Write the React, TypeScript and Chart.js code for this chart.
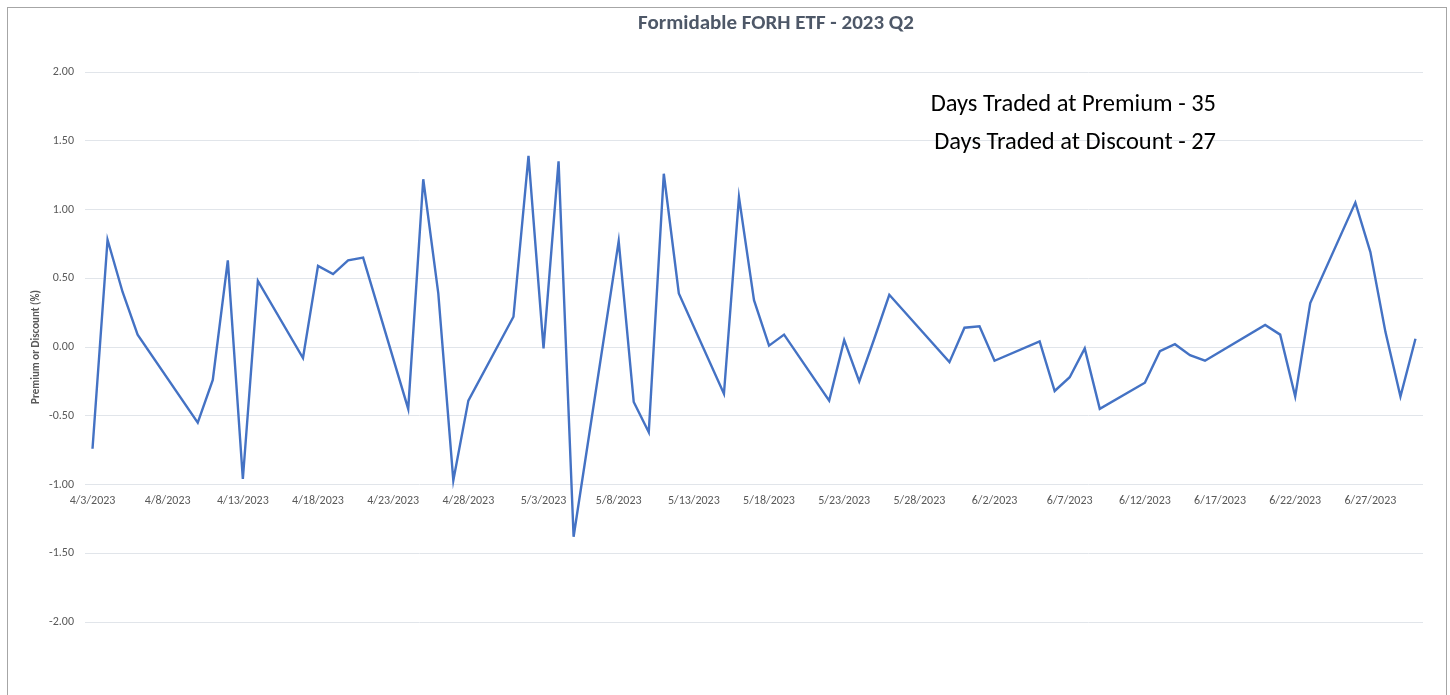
import React, { useEffect, useRef } from "react";
import { Chart, registerables } from "chart.js";

Chart.register(...registerables);

const chartTitle = "Formidable FORH ETF - 2023 Q2";
const yAxisTitle = "Premium or Discount (%)";
const noteLines = ["Days Traded at Premium - 35", "Days Traded at Discount - 27"];

const tradeDates = [
  "4/3/2023", "4/4/2023", "4/5/2023", "4/6/2023", "4/10/2023", "4/11/2023", "4/12/2023", "4/13/2023", "4/14/2023",
  "4/17/2023", "4/18/2023", "4/19/2023", "4/20/2023", "4/21/2023", "4/24/2023", "4/25/2023", "4/26/2023", "4/27/2023", "4/28/2023",
  "5/1/2023", "5/2/2023", "5/3/2023", "5/4/2023", "5/5/2023", "5/8/2023", "5/9/2023", "5/10/2023", "5/11/2023", "5/12/2023",
  "5/15/2023", "5/16/2023", "5/17/2023", "5/18/2023", "5/19/2023", "5/22/2023", "5/23/2023", "5/24/2023", "5/25/2023", "5/26/2023",
  "5/30/2023", "5/31/2023",
  "6/1/2023", "6/2/2023", "6/5/2023", "6/6/2023", "6/7/2023", "6/8/2023", "6/9/2023", "6/12/2023", "6/13/2023", "6/14/2023",
  "6/15/2023", "6/16/2023", "6/20/2023", "6/21/2023", "6/22/2023", "6/23/2023", "6/26/2023", "6/27/2023", "6/28/2023",
  "6/29/2023", "6/30/2023",
];

const premiumDiscount = [
  -0.74, 0.78, 0.40, 0.09, -0.55, -0.24, 0.63, -0.96, 0.48,
  -0.08, 0.59, 0.53, 0.63, 0.65, -0.45, 1.22, 0.39, -0.97, -0.39,
  0.22, 1.39, -0.01, 1.35, -1.38, 0.77, -0.40, -0.62, 1.26, 0.39,
  -0.34, 1.09, 0.34, 0.01, 0.09, -0.39, 0.05, -0.25, 0.06, 0.38,
  -0.11, 0.14,
  0.15, -0.10, 0.04, -0.32, -0.22, -0.01, -0.45, -0.26, -0.03, 0.02,
  -0.06, -0.10, 0.16, 0.09, -0.36, 0.32, 1.05, 0.69, 0.11,
  -0.36, 0.06,
];

const xTickLabels = [
  "4/3/2023", "4/8/2023", "4/13/2023", "4/18/2023", "4/23/2023", "4/28/2023",
  "5/3/2023", "5/8/2023", "5/13/2023", "5/18/2023", "5/23/2023", "5/28/2023",
  "6/2/2023", "6/7/2023", "6/12/2023", "6/17/2023", "6/22/2023", "6/27/2023",
];

const yMin = -2;
const yMax = 2;
const yStep = 0.5;
const firstDay = "4/3/2023";
const lastDay = "6/30/2023";

function dayIndex(s: string): number {
  const [m, d, y] = s.split("/").map(Number);
  const [m0, d0, y0] = firstDay.split("/").map(Number);
  return Math.round((Date.UTC(y, m - 1, d) - Date.UTC(y0, m0 - 1, d0)) / 86400000);
}

const FONT = "Carlito, Calibri, Lato, sans-serif";

export default function App() {
  const ref = useRef<HTMLCanvasElement | null>(null);

  useEffect(() => {
    if (!ref.current) return;
    const points = tradeDates.map((d, i) => ({ x: dayIndex(d), y: premiumDiscount[i] }));
    const tickMap = new Map<number, string>();
    xTickLabels.forEach((l) => tickMap.set(dayIndex(l), l));

    const textPlugin = {
      id: "texts",
      afterDraw(chart: any) {
        const ctx = chart.ctx;
        ctx.save();
        ctx.textBaseline = "middle";
        ctx.textAlign = "center";
        ctx.fillStyle = "#4e5868";
        ctx.font = `bold 21px ${FONT}`;
        ctx.fillText(chartTitle, 776, 24);
        ctx.fillStyle = "#000000";
        ctx.font = `24.5px ${FONT}`;
        ctx.textAlign = "right";
        ctx.fillText(noteLines[0], 1216, 105);
        ctx.fillText(noteLines[1], 1216, 143);
        ctx.restore();
      },
    };

    const chart = new Chart(ref.current, {
      type: "line",
      data: {
        datasets: [
          {
            data: points,
            borderColor: "#4472c4",
            borderWidth: 2.4,
            pointRadius: 0,
            tension: 0,
            fill: false,
          },
        ],
      },
      options: {
        animation: false,
        responsive: false,
        layout: { padding: { top: 72, bottom: 73, left: 0, right: 27 } },
        plugins: {
          legend: { display: false },
          title: { display: false },
          tooltip: { enabled: false },
        },
        scales: {
          x: {
            type: "linear",
            position: { y: -1 } as any,
            min: dayIndex(firstDay) - 0.5,
            max: dayIndex(lastDay) + 0.5,
            grid: { display: false, drawTicks: false },
            border: { display: false },
            afterBuildTicks: (scale: any) => {
              scale.ticks = xTickLabels.map((l) => ({ value: dayIndex(l) }));
            },
            ticks: {
              autoSkip: false,
              maxRotation: 0,
              minRotation: 0,
              padding: 9,
              color: "#595959",
              font: { family: FONT, size: 12 },
              callback: (v: any) => tickMap.get(Number(v)) ?? "",
            },
          },
          y: {
            type: "linear",
            min: yMin,
            max: yMax,
            afterFit: (scale: any) => {
              scale.width = 85;
            },
            grid: { color: "#e1e5ea", lineWidth: 1, drawTicks: false },
            border: { display: false },
            ticks: {
              stepSize: yStep,
              padding: 11,
              color: "#595959",
              font: { family: FONT, size: 12 },
              callback: (v: any) => Number(v).toFixed(2),
            },
            title: {
              display: true,
              text: yAxisTitle,
              color: "#595959",
              font: { family: FONT, size: 11, weight: "bold" },
              padding: { top: 30, bottom: 0 },
            },
          },
        },
      },
      plugins: [textPlugin],
    });
    return () => chart.destroy();
  }, []);

  return (
    <div style={{ position: "fixed", left: 0, top: 0, width: 1450, height: 695, overflow: "hidden", background: "#fff" }}>
      <div
        style={{
          position: "absolute",
          left: 7,
          top: 7,
          width: 1438,
          height: 720,
          border: "1px solid #a6a6a6",
          boxSizing: "content-box",
        }}
      />
      <canvas ref={ref} width={1450} height={695} style={{ position: "absolute", left: 0, top: 0 }} />
    </div>
  );
}
